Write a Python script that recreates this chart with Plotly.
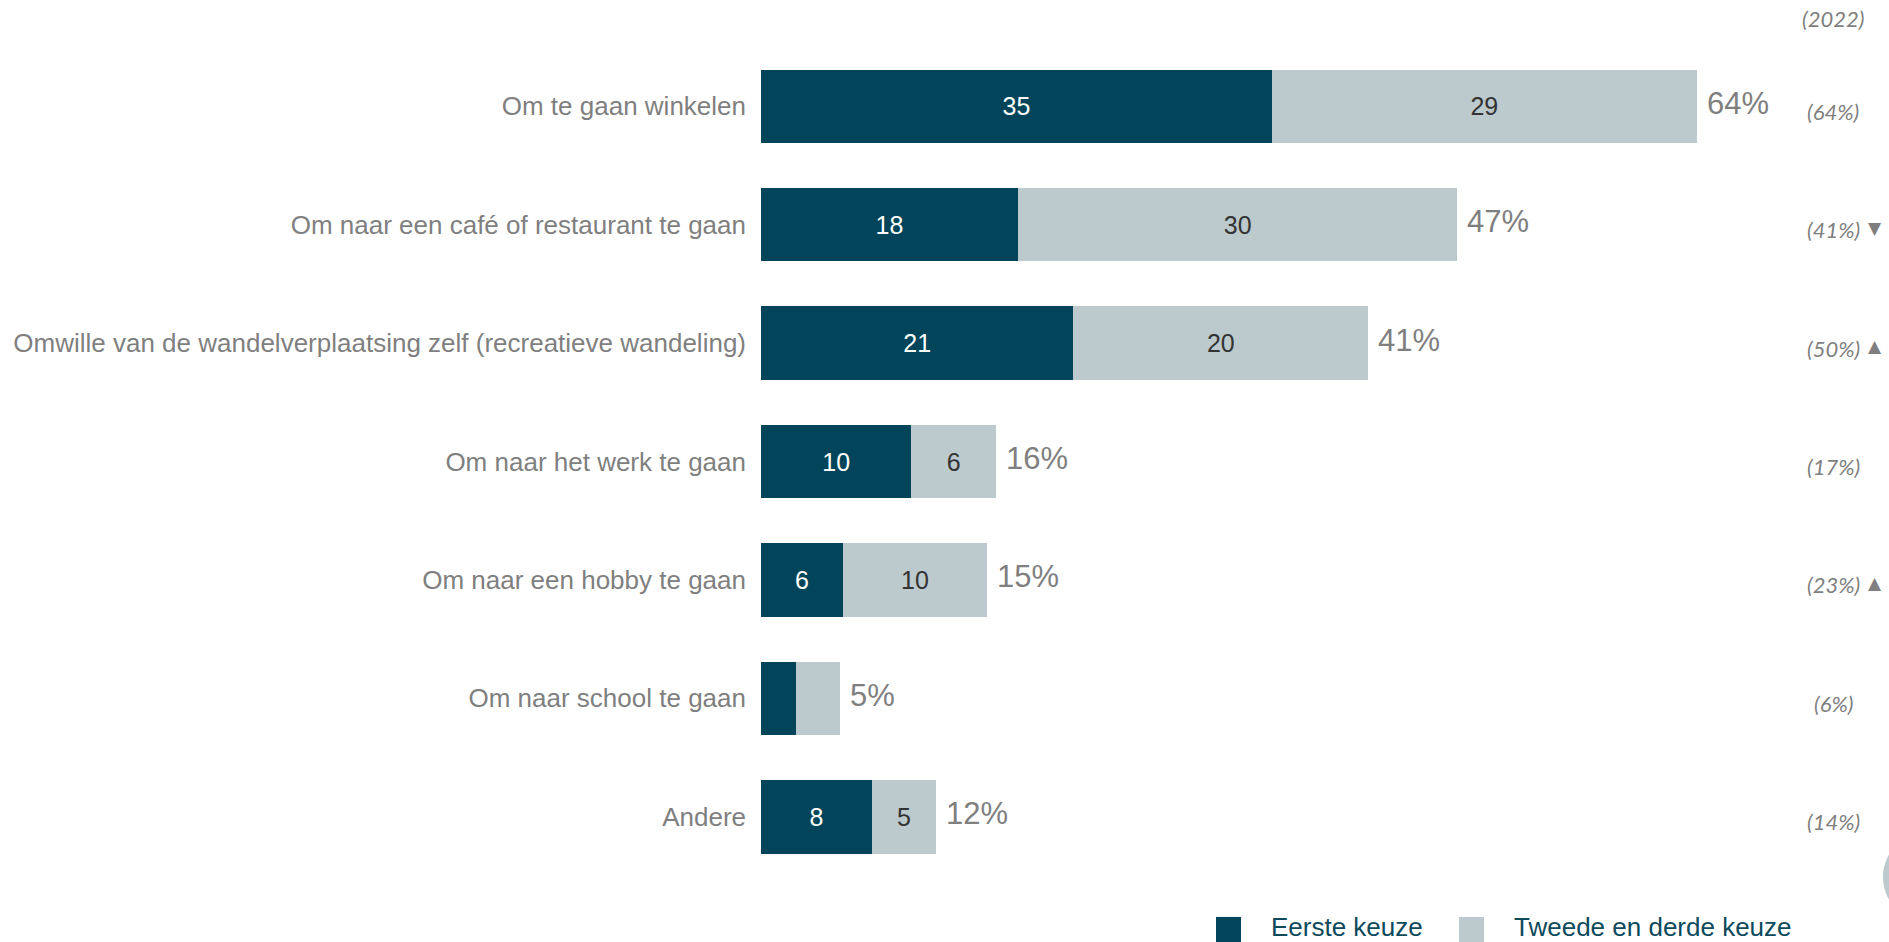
import plotly.graph_objects as go

categories = [
    "Om te gaan winkelen",
    "Om naar een café of restaurant te gaan",
    "Omwille van de wandelverplaatsing zelf (recreatieve wandeling)",
    "Om naar het werk te gaan",
    "Om naar een hobby te gaan",
    "Om naar school te gaan",
    "Andere",
]
eerste = [35.0, 17.6, 21.4, 10.3, 5.6, 2.4, 7.6]
tweede_derde = [29.1, 30.1, 20.2, 5.8, 9.9, 3.0, 4.4]
eerste_labels = ["35", "18", "21", "10", "6", "", "8"]
tweede_labels = ["29", "30", "20", "6", "10", "", "5"]
totaal_labels = ["64%", "47%", "41%", "16%", "15%", "5%", "12%"]
vorig_jaar = ["(64%)", "(41%)", "(50%)", "(17%)", "(23%)", "(6%)", "(14%)"]
trend = ["", "▼", "▲", "", "▲", "", ""]
jaar_label = "(2022)"
legend_names = ["Eerste keuze", "Tweede en derde keuze"]

DARK = "#02455a"
LIGHT = "#bcc9cd"
GREY = "#7f7f7f"
TEAL_TEXT = "#0d4a5c"
FONT = "Liberation Sans, Arial"

fig = go.Figure()
fig.add_trace(go.Bar(
    y=categories, x=eerste, orientation="h", name=legend_names[0],
    marker=dict(color=DARK, line=dict(width=0)),
    text=eerste_labels, textposition="inside", insidetextanchor="middle",
    textfont=dict(color="white", size=25, family=FONT),
    hoverinfo="skip",
))
fig.add_trace(go.Bar(
    y=categories, x=tweede_derde, orientation="h", name=legend_names[1],
    marker=dict(color=LIGHT, line=dict(width=0)),
    text=tweede_labels, textposition="inside", insidetextanchor="middle",
    textfont=dict(color="#333333", size=25, family=FONT),
    hoverinfo="skip",
))

annotations = []
for cat, a, b, t in zip(categories, eerste, tweede_derde, totaal_labels):
    annotations.append(dict(
        x=a + b, y=cat, xref="x", yref="y", text=t, showarrow=False,
        xanchor="left", xshift=8, yshift=3,
        font=dict(size=31, color=GREY, family=FONT),
    ))
for cat, v, tr in zip(categories, vorig_jaar, trend):
    annotations.append(dict(
        x=1.072, y=cat, xref="paper", yref="y", text="<i>" + v + "</i>",
        showarrow=False, xanchor="center", yshift=-5,
        font=dict(size=22, color=GREY, family="Lato, Open Sans"),
    ))
    if tr:
        annotations.append(dict(
            x=1.114, y=cat, xref="paper", yref="y", text=tr,
            showarrow=False, xanchor="center", yshift=-3,
            font=dict(size=17, color=GREY, family="DejaVu Sans"),
        ))
annotations.append(dict(
    x=1.072, y=1.034, xref="paper", yref="paper", text="<i>" + jaar_label + "</i>",
    showarrow=False, xanchor="center", yanchor="middle",
    font=dict(size=22, color=GREY, family="Lato, Open Sans"),
))
# legend texts
for xpos, name in zip([0.508, 0.751], legend_names):
    annotations.append(dict(
        x=xpos, y=-0.062, xref="paper", yref="paper", text=name,
        showarrow=False, xanchor="left", yanchor="middle",
        font=dict(size=26, color=TEAL_TEXT, family=FONT),
    ))

shapes = [
    dict(type="rect", xref="paper", yref="paper", x0=0.455, x1=0.480,
         y0=-0.09, y1=-0.0494, fillcolor=DARK, line=dict(width=0)),
    dict(type="rect", xref="paper", yref="paper", x0=0.698, x1=0.723,
         y0=-0.09, y1=-0.0494, fillcolor=LIGHT, line=dict(width=0)),
    dict(type="circle", xref="paper", yref="paper",
         x0=1.122, x1=1.212, y0=-0.0555, y1=0.053,
         fillcolor=LIGHT, line=dict(width=0), layer="below"),
]

fig.update_layout(
    barmode="stack",
    bargap=0.38,
    width=1889, height=942,
    margin=dict(l=761, r=128, t=47, b=66),
    plot_bgcolor="white", paper_bgcolor="white",
    xaxis=dict(range=[0, 68.5], visible=False, fixedrange=True),
    yaxis=dict(
        autorange="reversed", showgrid=False, zeroline=False, showline=False,
        ticks="", ticklabelstandoff=14, fixedrange=True,
        tickfont=dict(size=26, color=GREY, family=FONT),
    ),
    showlegend=False,
    hovermode=False,
    annotations=annotations,
    shapes=shapes,
)

fig.write_html(
    "out.html",
    config={"displayModeBar": False},
    post_script="document.body.style.margin='0';document.body.style.overflow='hidden';",
)
